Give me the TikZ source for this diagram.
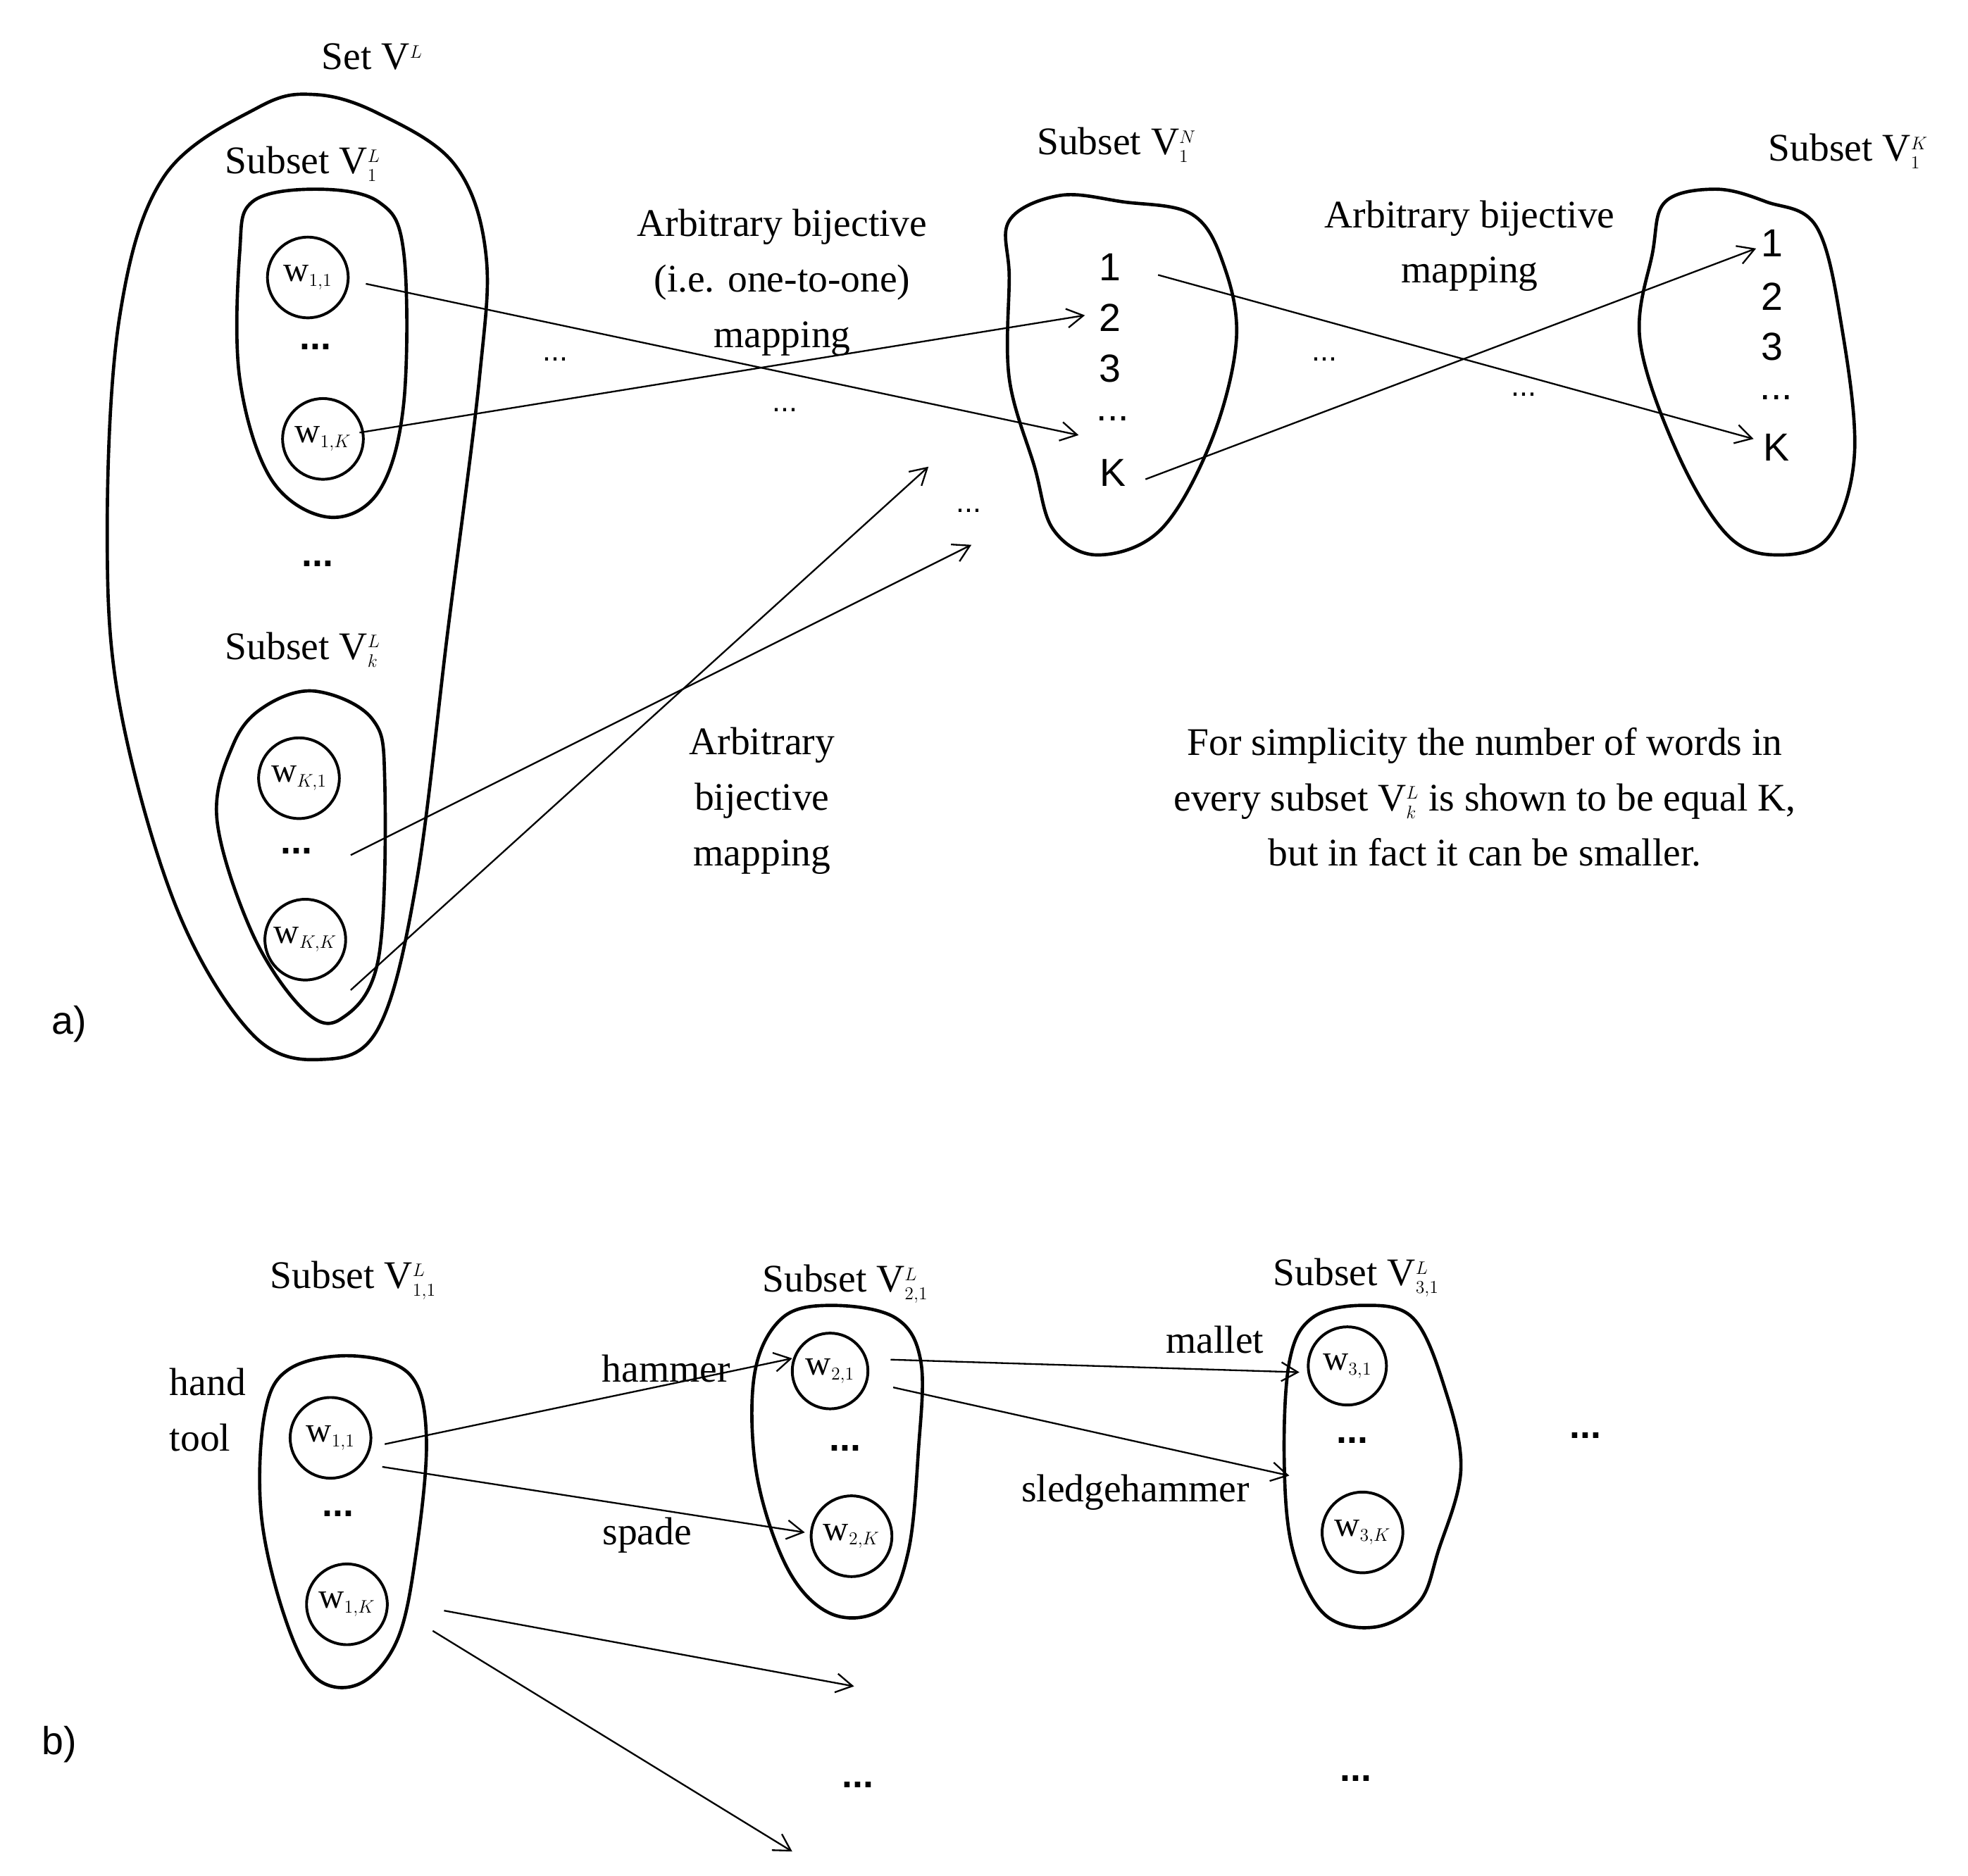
\documentclass[tikz,border=0pt]{standalone}
\usepackage{fontspec}
\setmainfont{Liberation Serif}
\setsansfont{Liberation Sans}
\usetikzlibrary{arrows.meta}
\newcommand{\VV}[2]{V$_{\scriptscriptstyle #1}^{\scriptscriptstyle #2}$}
\newcommand{\ww}[1]{w$_{\scriptscriptstyle #1}$}
\tikzset{
 blob/.style={line width=2.6pt},
 wc/.style={draw,circle,line width=2.2pt,minimum size=64pt,inner sep=0pt,font=\fontsize{28}{30}\selectfont},
 ar/.style={line width=1.3pt,-{Straight Barb[length=13pt,width=15pt]}},
 lbl/.style={font=\fontsize{31}{44}\selectfont,align=center},
 num/.style={font=\sffamily\fontsize{31}{34}\selectfont},
 bd/.style={font=\sffamily\bfseries\fontsize{30}{30}\selectfont},
 td/.style={font=\sffamily\fontsize{24}{24}\selectfont}
}
\begin{document}
\begin{tikzpicture}[x=1pt,y=-1pt]
\useasboundingbox (0,0) rectangle (1560,1487);
% part a
\draw[blob] plot[smooth cycle,tension=0.6] coordinates{(205,85)(250,75)(300,90)(360,130)(385,200)(380,300)(355,500)(330,700)(300,815)(255,840)(200,820)(140,720)(95,560)(85,420)(95,250)(130,140)};
\draw[blob] plot[smooth cycle,tension=0.6] coordinates{(200,160)(250,150)(300,160)(320,200)(320,320)(300,390)(260,410)(215,380)(190,300)(190,200)};
\draw[blob] plot[smooth cycle,tension=0.6] coordinates{(210,560)(250,548)(295,570)(305,620)(300,760)(270,808)(240,800)(200,740)(172,650)(185,590)};
\node[wc] (w11) at (244,220) {\ww{1,1}};
\node[wc] (w1K) at (256,348) {\ww{1,K}};
\node[wc] (wK1) at (237,617) {\ww{K,1}};
\node[wc] (wKK) at (242,745) {\ww{K,K}};
\node[bd] (d1) at (250,275) {...};
\node[bd] (d2) at (252,447) {...};
\node[bd] (d3) at (235,675) {...};
\node[lbl] (tSet) at (295,45) {Set V$^{\scriptscriptstyle L}$};
\node[lbl] (t1) at (240,130) {Subset \VV{1}{L}};
\node[lbl] (tk) at (240,515) {Subset \VV{k}{L}};
\draw[blob] plot[smooth cycle,tension=0.6] coordinates{(800,175)(840,155)(890,160)(945,170)(970,210)(980,270)(960,350)(920,420)(870,440)(835,420)(820,370)(800,300)(800,220)};
\node[lbl] (tN) at (885,115) {Subset \VV{1}{N}};
\node[num] (n1) at (880,212) {1};
\node[num] (n2) at (880,252) {2};
\node[num] (n3) at (880,292) {3};
\node[num] (nd) at (882,332) {...};
\node[num] (nK) at (882,375) {K};
\draw[blob] plot[smooth cycle,tension=0.6] coordinates{(1320,160)(1360,150)(1400,160)(1440,180)(1460,260)(1470,360)(1450,425)(1410,440)(1370,425)(1330,360)(1300,270)(1310,200)};
\node[lbl] (tK) at (1465,120) {Subset \VV{1}{K}};
\node[num] (m1) at (1405,193) {1};
\node[num] (m2) at (1405,235) {2};
\node[num] (m3) at (1405,275) {3};
\node[num] (md) at (1408,315) {...};
\node[num] (mK) at (1408,355) {K};
\coordinate (a1) at (290,225); \coordinate (b1) at (855,345);
\coordinate (a2) at (285,343); \coordinate (b2) at (860,250);
\coordinate (a3) at (278,678); \coordinate (b3) at (770,432);
\coordinate (a4) at (278,785); \coordinate (b4) at (736,370);
\coordinate (a5) at (918,218); \coordinate (b5) at (1390,348);
\coordinate (a6) at (908,380); \coordinate (b6) at (1392,197);
\foreach \i in {1,...,6}{\draw[ar] (a\i) -- (b\i);}
\node[td] at (440,285) {...};
\node[td] at (622,325) {...};
\node[td] at (768,405) {...};
\node[td] at (1050,285) {...};
\node[td] at (1208,313) {...};
\node[lbl] (L1) at (620,224) {Arbitrary bijective\\(i.e. one-to-one)\\mapping};
\node[lbl] (L2) at (1165,195) {Arbitrary bijective\\mapping};
\node[lbl] (L3) at (604,635) {Arbitrary\\bijective\\mapping};
\node[lbl] (L4) at (1177,632) {For simplicity the number of words in\\every subset \VV{k}{L} is shown to be equal K,\\but in fact it can be smaller.};
\node[num] (pa) at (55,812) {a)};
% part b
\draw[blob] plot[smooth cycle,tension=0.6] coordinates{(230,1085)(280,1075)(325,1090)(338,1140)(330,1230)(315,1300)(285,1335)(250,1330)(225,1280)(207,1200)(210,1120)};
\draw[blob] plot[smooth cycle,tension=0.6] coordinates{(620,1045)(660,1035)(710,1045)(730,1080)(728,1150)(720,1230)(700,1275)(660,1280)(625,1245)(600,1170)(598,1090)};
\draw[blob] plot[smooth cycle,tension=0.6] coordinates{(1040,1045)(1080,1035)(1120,1045)(1145,1100)(1158,1165)(1140,1230)(1125,1270)(1090,1290)(1050,1280)(1025,1230)(1018,1160)(1022,1080)};
\node[wc] (v11) at (262,1140) {\ww{1,1}};
\node[wc] (v1K) at (275,1272) {\ww{1,K}};
\node[wc,minimum size=60pt] (v21) at (658,1087) {\ww{2,1}};
\node[wc] (v2K) at (675,1218) {\ww{2,K}};
\node[wc,minimum size=62pt] (v31) at (1068,1083) {\ww{3,1}};
\node[wc] (v3K) at (1080,1215) {\ww{3,K}};
\node[bd] at (268,1200) {...};
\node[bd] at (670,1148) {...};
\node[bd] at (1072,1142) {...};
\node[bd] at (1257,1138) {...};
\node[bd] at (680,1415) {...};
\node[bd] at (1075,1410) {...};
\node[lbl] at (280,1015) {Subset \VV{1,1}{L}};
\node[lbl] at (670,1018) {Subset \VV{2,1}{L}};
\node[lbl] at (1075,1013) {Subset \VV{3,1}{L}};
\node[lbl,align=left,anchor=west] at (131,1118) {hand\\tool};
\coordinate (c1) at (305,1145); \coordinate (e1) at (628,1077);
\coordinate (c2) at (303,1163); \coordinate (e2) at (638,1215);
\coordinate (c3) at (706,1078); \coordinate (e3) at (1030,1088);
\coordinate (c4) at (708,1100); \coordinate (e4) at (1022,1170);
\coordinate (c5) at (352,1277); \coordinate (e5) at (677,1337);
\coordinate (c6) at (343,1293); \coordinate (e6) at (628,1468);
\foreach \i in {1,...,6}{\draw[ar] (c\i) -- (e\i);}
\node[lbl] at (528,1085) {hammer};
\node[lbl] at (513,1217) {spade};
\node[lbl] at (963,1062) {mallet};
\node[lbl] at (900,1183) {sledgehammer};
\node[num] (pb) at (47,1383) {b)};
\end{tikzpicture}
\end{document}
